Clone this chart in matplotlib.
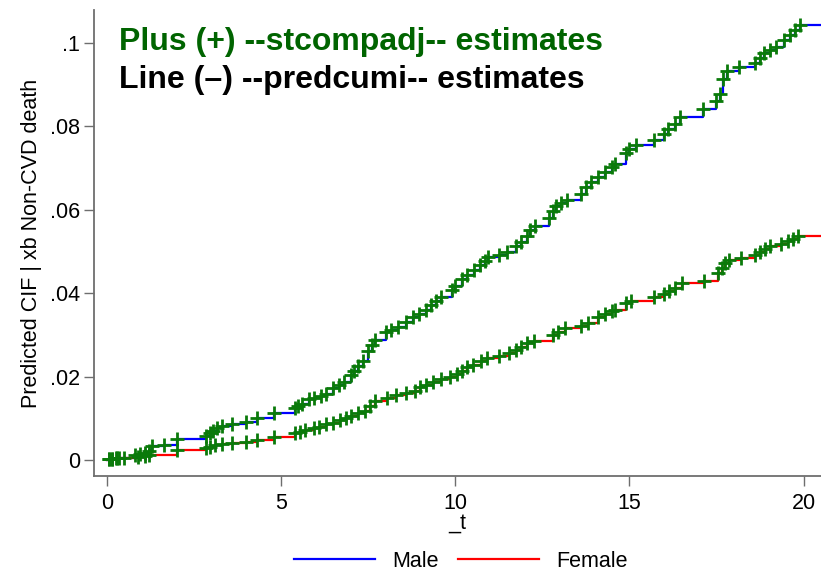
import numpy as np
import matplotlib
matplotlib.use("Agg")
import matplotlib.pyplot as plt

plt.rcParams['font.family'] = ['Liberation Sans', 'DejaVu Sans']

# male: event times and predicted CIF
male_t = [0.05, 0.15, 0.25, 0.35, 0.8, 0.95, 1.1, 1.2, 1.3, 1.65, 2.0, 2.85, 2.95, 3.05,
          3.15, 3.3, 3.6, 4.0, 4.3, 4.8, 5.4, 5.5, 5.6, 5.8, 5.95, 6.15, 6.3, 6.5, 6.65,
          6.8, 7.0, 7.1, 7.2, 7.35, 7.5, 7.6, 7.7, 8.0, 8.15, 8.35, 8.6, 8.8, 8.95, 9.15,
          9.3, 9.45, 9.6, 9.9, 10.0, 10.2, 10.35, 10.55, 10.7, 10.85, 10.95, 11.25, 11.5,
          11.75, 11.9, 12.05, 12.15, 12.3, 12.7, 12.8, 12.9, 13.05, 13.2, 13.6, 13.75,
          13.9, 14.1, 14.3, 14.5, 14.6, 14.9, 15.0, 15.2, 15.7, 16.0, 16.1, 16.3, 16.45,
          17.1, 17.5, 17.6, 17.7, 17.8, 18.15, 18.6, 18.75, 18.85, 19.05, 19.2, 19.45,
          19.6, 19.75, 19.9]
male_cif = [0.0002, 0.0003, 0.0004, 0.0005, 0.0012, 0.0015, 0.0018, 0.0022, 0.0034, 0.0036,
            0.0051, 0.0058, 0.0064, 0.0070, 0.0076, 0.0082, 0.0086, 0.0092, 0.0100, 0.0112,
            0.0124, 0.0130, 0.0134, 0.0146, 0.0150, 0.0154, 0.0158, 0.0172, 0.0180, 0.0188,
            0.0204, 0.0214, 0.0226, 0.0238, 0.0262, 0.0276, 0.0288, 0.0306, 0.0312, 0.0318,
            0.0332, 0.0342, 0.0350, 0.0360, 0.0372, 0.0382, 0.0390, 0.0408, 0.0418, 0.0434,
            0.0444, 0.0456, 0.0468, 0.0478, 0.0486, 0.0492, 0.0498, 0.0512, 0.0522, 0.0536,
            0.0550, 0.0560, 0.0580, 0.0596, 0.0608, 0.0616, 0.0622, 0.0638, 0.0654, 0.0666,
            0.0678, 0.0690, 0.0702, 0.0710, 0.0736, 0.0744, 0.0754, 0.0766, 0.0780, 0.0792,
            0.0806, 0.0822, 0.0842, 0.0860, 0.0876, 0.0912, 0.0932, 0.0942, 0.0952, 0.0962,
            0.0974, 0.0982, 0.0990, 0.1006, 0.1018, 0.1030, 0.1042]

# female: event times and predicted CIF
female_t = [0.05, 0.15, 0.3, 0.5, 0.9, 1.1, 1.2, 2.0, 2.85, 2.95, 3.1, 3.3, 3.6, 4.0, 4.3,
            4.8, 5.4, 5.55, 5.7, 5.95, 6.1, 6.3, 6.5, 6.7, 6.85, 7.0, 7.2, 7.4, 7.55, 7.7,
            8.05, 8.3, 8.6, 8.85, 9.0, 9.15, 9.35, 9.6, 9.85, 10.05, 10.2, 10.35, 10.5,
            10.75, 10.9, 11.25, 11.55, 11.75, 11.9, 12.05, 12.25, 12.8, 12.95, 13.15, 13.6,
            13.8, 14.1, 14.3, 14.5, 14.6, 14.9, 15.05, 15.7, 16.0, 16.15, 16.3, 16.5, 17.15,
            17.55, 17.65, 17.75, 17.85, 18.2, 18.6, 18.75, 18.9, 19.05, 19.35, 19.55, 19.7,
            19.85]
female_cif = [0.0002, 0.0003, 0.0004, 0.0005, 0.0008, 0.0010, 0.0012, 0.0024, 0.0028, 0.0032,
              0.0036, 0.0038, 0.0040, 0.0044, 0.0048, 0.0056, 0.0064, 0.0068, 0.0072, 0.0076,
              0.0080, 0.0086, 0.0090, 0.0096, 0.0100, 0.0106, 0.0112, 0.0118, 0.0130, 0.0142,
              0.0150, 0.0156, 0.0160, 0.0166, 0.0174, 0.0180, 0.0188, 0.0194, 0.0198, 0.0206,
              0.0214, 0.0222, 0.0228, 0.0238, 0.0244, 0.0250, 0.0256, 0.0264, 0.0272, 0.0280,
              0.0286, 0.0300, 0.0308, 0.0316, 0.0322, 0.0328, 0.0342, 0.0350, 0.0356, 0.0360,
              0.0376, 0.0380, 0.0390, 0.0398, 0.0406, 0.0412, 0.0424, 0.0430, 0.0448, 0.0460,
              0.0472, 0.0480, 0.0484, 0.0492, 0.0498, 0.0506, 0.0512, 0.0518, 0.0524, 0.0530,
              0.0536]

yticks = [0, 0.02, 0.04, 0.06, 0.08, 0.1]
ytick_labels = ["0", ".02", ".04", ".06", ".08", ".1"]
xticks = [0, 5, 10, 15, 20]

x_max = 20.5

fig = plt.figure(figsize=(8.21, 5.76), dpi=100)
ax = fig.add_axes([0.1145, 0.1736, 0.8855, 0.809])

grey = "#6e6e6e"
mark_green = "#0a7a0a"

for t, cif, col, lab in [(male_t, male_cif, "#0000ff", "Male"),
                         (female_t, female_cif, "#ff0000", "Female")]:
    tt = np.r_[0, t, x_max]
    yy = np.r_[0, cif, cif[-1]]
    ax.step(tt, yy, where="post", color=col, linewidth=1.6, label=lab, zorder=2)
    ax.plot(t, cif, linestyle="none", marker="+", markersize=10.5, markeredgewidth=2.0,
            color=mark_green, zorder=3)

ax.set_xlim(-0.37, x_max)
ax.set_ylim(-0.0038, 0.1078)
ax.set_xticks(xticks)
ax.set_yticks(yticks)
ax.set_yticklabels(ytick_labels)

for s in ["top", "right"]:
    ax.spines[s].set_visible(False)
for s in ["left", "bottom"]:
    ax.spines[s].set_color(grey)
    ax.spines[s].set_linewidth(1.3)
ax.tick_params(axis="both", direction="out", length=7, width=1.0, color=grey,
               labelsize=15.5)
ax.tick_params(axis="x", pad=5)
ax.tick_params(axis="y", pad=3)

ax.set_ylabel("Predicted CIF | xb Non-CVD death", fontsize=15.5, labelpad=6)
ax.set_xlabel("_t", fontsize=15.5, labelpad=-1)

ax.text(0.035, 0.931, "Plus (+) --stcompadj-- estimates", transform=ax.transAxes,
        fontsize=23, fontweight="bold", color="#006400", va="center", ha="left")
ax.text(0.035, 0.850, "Line (\u2013) --predcumi-- estimates", transform=ax.transAxes,
        fontsize=23, fontweight="bold", color="black", va="center", ha="left")

fig.legend(loc="lower center", bbox_to_anchor=(0.5615, -0.026), ncol=2, frameon=False,
           fontsize=15.5, handlelength=3.75, columnspacing=0.9, handletextpad=0.8)

fig.savefig("out.png", dpi=100)
